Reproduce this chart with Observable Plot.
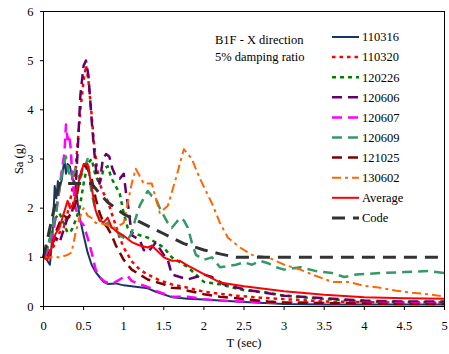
<!DOCTYPE html>
<html>
<head>
<meta charset="utf-8">
<script src="https://cdn.jsdelivr.net/npm/d3@7"></script>
<script src="https://cdn.jsdelivr.net/npm/@observablehq/plot@0.6"></script>
<style>
  html, body { margin: 0; padding: 0; background: #fff; }
  #chart { width: 449px; height: 354px; overflow: hidden; }
</style>
</head>
<body>
<div id="chart"></div>
<script>
// ---- Data ----
const seriesNames = ["110316", "110320", "120226", "120606", "120607", "120609", "121025", "130602", "Average", "Code"];
const seriesColors = ["#17375E", "#FF0000", "#008000", "#660066", "#FF00FF", "#339966", "#800000", "#FF6600", "#FF0000", "#333333"];
const seriesDash = ["none", "3.5,4", "4,4", "10,6", "10,6", "10,6", "10,6", "9,4,3,4", "none", "13,8"];
const seriesWidth = [2, 2.5, 2.5, 2.5, 2.5, 2.5, 2.5, 2, 2, 3];

const xTicks = [0, 0.5, 1, 1.5, 2, 2.5, 3, 3.5, 4, 4.5, 5];
const yTicks = [0, 1, 2, 3, 4, 5, 6];

const T_110316 = [0, 0.04, 0.08, 0.11, 0.14, 0.16, 0.18, 0.2, 0.23, 0.26, 0.28, 0.3, 0.33, 0.36, 0.4, 0.43, 0.46, 0.5, 0.55, 0.6, 0.65, 0.7, 0.75, 0.8, 0.9, 1.0, 1.2, 1.3, 1.4, 1.6, 1.8, 2.0, 2.5, 3.0, 3.5, 4.0, 5.0];
const SA_110316 = [1.0, 0.95, 0.85, 1.4, 2.45, 2.2, 2.55, 2.4, 2.6, 3.0, 2.7, 2.9, 2.85, 2.6, 2.5, 2.05, 1.75, 1.45, 1.1, 0.85, 0.7, 0.6, 0.5, 0.46, 0.47, 0.43, 0.39, 0.37, 0.3, 0.19, 0.16, 0.14, 0.09, 0.05, 0.04, 0.04, 0.04];

const T_110320 = [0, 0.05, 0.1, 0.15, 0.2, 0.25, 0.3, 0.35, 0.4, 0.43, 0.46, 0.5, 0.53, 0.56, 0.6, 0.63, 0.66, 0.7, 0.75, 0.8, 0.85, 0.9, 0.95, 1.0, 1.1, 1.2, 1.3, 1.45, 1.6, 1.8, 2.0, 2.2, 2.4, 2.7, 3.0, 3.5, 4.0, 4.5, 5.0];
const SA_110320 = [1.0, 1.0, 1.15, 1.3, 1.5, 1.6, 1.9, 2.3, 2.8, 3.4, 4.0, 4.6, 4.9, 4.6, 3.9, 3.3, 2.9, 2.5, 2.3, 2.15, 1.9, 1.65, 1.4, 1.2, 0.92, 0.75, 0.65, 0.53, 0.45, 0.38, 0.3, 0.26, 0.22, 0.18, 0.15, 0.1, 0.09, 0.08, 0.08];

const T_120226 = [0, 0.05, 0.1, 0.15, 0.2, 0.25, 0.3, 0.35, 0.4, 0.45, 0.5, 0.55, 0.6, 0.65, 0.7, 0.75, 0.8, 0.85, 0.9, 0.95, 1.0, 1.05, 1.1, 1.2, 1.3, 1.4, 1.5, 1.6, 1.7, 1.8, 1.9, 2.0, 2.2, 2.5, 2.8, 3.0, 3.5, 4.0, 4.5, 5.0];
const SA_120226 = [1.0, 1.2, 1.5, 1.8, 1.9, 1.7, 1.5, 1.55, 1.75, 2.0, 2.5, 2.9, 3.0, 2.65, 2.5, 2.8, 2.85, 2.6, 2.45, 2.3, 1.9, 1.6, 1.5, 1.45, 1.4, 1.3, 1.2, 1.0, 0.9, 0.8, 0.65, 0.5, 0.45, 0.33, 0.28, 0.22, 0.15, 0.1, 0.09, 0.08];

const T_120606 = [0, 0.05, 0.1, 0.15, 0.2, 0.25, 0.3, 0.35, 0.4, 0.43, 0.46, 0.5, 0.53, 0.56, 0.6, 0.63, 0.66, 0.7, 0.74, 0.78, 0.82, 0.86, 0.9, 0.95, 1.0, 1.03, 1.06, 1.1, 1.15, 1.2, 1.25, 1.3, 1.35, 1.4, 1.5, 1.55, 1.6, 1.7, 1.8, 1.9, 2.0, 2.1, 2.25, 2.5, 2.75, 3.0, 3.5, 4.0, 4.5, 5.0];
const SA_120606 = [1.0, 1.1, 1.25, 1.4, 1.3, 1.55, 1.8, 1.85, 2.4, 3.3, 4.3, 4.9, 5.0, 4.7, 3.8, 3.2, 2.7, 2.5, 3.0, 3.1, 3.05, 2.8, 2.65, 2.6, 2.7, 2.3, 2.0, 1.45, 1.4, 1.35, 1.15, 1.1, 1.2, 1.3, 1.05, 0.95, 0.65, 0.6, 0.55, 0.6, 0.65, 0.6, 0.45, 0.35, 0.28, 0.22, 0.17, 0.12, 0.1, 0.1];

const T_120607 = [0, 0.05, 0.1, 0.15, 0.2, 0.23, 0.26, 0.28, 0.3, 0.32, 0.34, 0.36, 0.4, 0.45, 0.5, 0.55, 0.6, 0.65, 0.7, 0.75, 0.8, 0.85, 0.9, 0.95, 1.0, 1.05, 1.1, 1.2, 1.3, 1.4, 1.5, 1.6, 1.8, 2.0, 2.2, 2.5, 3.0, 3.5, 4.0, 4.5, 5.0];
const SA_120607 = [1.0, 1.1, 1.3, 1.8, 2.4, 2.8, 3.1, 3.7, 3.4, 3.5, 3.2, 2.6, 2.0, 1.75, 1.65, 1.4, 1.1, 0.75, 0.6, 0.52, 0.48, 0.47, 0.5, 0.55, 0.6, 0.62, 0.52, 0.45, 0.4, 0.32, 0.26, 0.2, 0.2, 0.15, 0.12, 0.1, 0.08, 0.07, 0.07, 0.07, 0.06];

const T_120609 = [0, 0.05, 0.1, 0.15, 0.2, 0.25, 0.28, 0.31, 0.35, 0.4, 0.45, 0.5, 0.55, 0.6, 0.65, 0.7, 0.75, 0.8, 0.85, 0.9, 0.95, 1.0, 1.05, 1.1, 1.15, 1.2, 1.25, 1.3, 1.35, 1.4, 1.45, 1.5, 1.55, 1.6, 1.65, 1.7, 1.75, 1.8, 1.85, 1.9, 2.0, 2.1, 2.2, 2.3, 2.4, 2.5, 2.6, 2.7, 2.8, 2.9, 3.0, 3.2, 3.4, 3.6, 3.75, 3.9, 4.2, 4.5, 4.8, 5.0];
const SA_120609 = [1.0, 1.2, 1.5, 1.9, 2.4, 2.9, 3.05, 2.75, 2.6, 2.8, 2.6, 2.75, 3.0, 2.3, 1.95, 1.75, 1.65, 1.7, 1.6, 1.55, 1.45, 1.4, 1.35, 1.5, 1.8, 2.05, 2.2, 2.35, 2.25, 2.2, 2.0, 1.85, 1.7, 1.6, 1.7, 1.8, 1.75, 1.6, 1.3, 1.05, 0.95, 1.0, 0.8, 0.82, 0.85, 0.9, 0.85, 0.93, 0.88, 0.8, 0.75, 0.8, 0.72, 0.68, 0.6, 0.65, 0.68, 0.7, 0.72, 0.68];

const T_121025 = [0, 0.05, 0.1, 0.15, 0.2, 0.25, 0.3, 0.35, 0.4, 0.45, 0.5, 0.55, 0.6, 0.65, 0.7, 0.75, 0.8, 0.85, 0.9, 0.95, 1.0, 1.1, 1.2, 1.3, 1.4, 1.5, 1.6, 1.7, 1.8, 2.0, 2.2, 2.5, 2.8, 3.0, 3.5, 4.0, 4.5, 5.0];
const SA_121025 = [1.0, 1.0, 1.2, 1.5, 1.7, 1.85, 1.8, 1.9, 2.1, 2.6, 2.9, 2.8, 2.6, 2.2, 1.9, 1.7, 1.6, 1.45, 1.25, 1.1, 0.95, 0.75, 0.65, 0.55, 0.5, 0.45, 0.38, 0.37, 0.32, 0.25, 0.2, 0.15, 0.1, 0.08, 0.07, 0.06, 0.05, 0.05];

const T_130602 = [0, 0.1, 0.2, 0.3, 0.35, 0.4, 0.45, 0.5, 0.55, 0.6, 0.65, 0.7, 0.8, 0.9, 1.0, 1.1, 1.15, 1.25, 1.35, 1.45, 1.55, 1.65, 1.75, 1.85, 1.95, 2.1, 2.2, 2.3, 2.45, 2.6, 2.8, 3.0, 3.2, 3.4, 3.6, 3.8, 4.0, 4.2, 4.4, 4.6, 4.8, 5.0];
const SA_130602 = [1.0, 1.0, 1.0, 1.05, 1.1, 1.5, 1.8, 2.0, 1.85, 1.8, 1.7, 1.7, 1.65, 1.6, 1.7, 2.5, 2.8, 2.5, 2.5, 1.9, 2.05, 2.6, 3.2, 3.0, 2.6, 2.1, 1.7, 1.4, 1.2, 1.05, 1.0, 0.85, 0.75, 0.62, 0.5, 0.5, 0.42, 0.38, 0.32, 0.28, 0.25, 0.2];

const T_AVG = [0, 0.05, 0.1, 0.15, 0.2, 0.25, 0.3, 0.33, 0.38, 0.42, 0.5, 0.55, 0.6, 0.65, 0.7, 0.75, 0.8, 0.85, 0.9, 1.0, 1.1, 1.2, 1.3, 1.35, 1.5, 1.6, 1.7, 1.8, 2.0, 2.2, 2.5, 3.0, 3.5, 4.0, 4.5, 5.0];
const SA_AVG = [1.0, 0.95, 1.2, 1.48, 1.6, 1.88, 2.15, 2.0, 2.1, 2.42, 2.9, 2.9, 2.42, 1.95, 1.75, 1.71, 1.81, 1.61, 1.54, 1.44, 1.31, 1.24, 1.2, 1.24, 1.0, 0.93, 0.93, 0.83, 0.66, 0.49, 0.41, 0.31, 0.24, 0.19, 0.17, 0.16];

const T_CODE = [0, 0.2, 0.6, 0.7, 0.8, 1.0, 1.2, 1.5, 1.75, 2.0, 2.2, 2.4, 5.0];
const SA_CODE = [1.0, 2.5, 2.5, 2.3, 2.12, 1.88, 1.72, 1.48, 1.28, 1.15, 1.07, 1.0, 1.0];

const seriesT = [T_110316, T_110320, T_120226, T_120606, T_120607, T_120609, T_121025, T_130602, T_AVG, T_CODE];
const seriesSa = [SA_110316, SA_110320, SA_120226, SA_120606, SA_120607, SA_120609, SA_121025, SA_130602, SA_AVG, SA_CODE];

const annotation = ["B1F - X direction", "5% damping ratio"];

// ---- Build ----
const FONT = "'Liberation Serif', 'Times New Roman', serif";
const lineMarks = seriesNames.map((name, i) => {
  const rows = seriesT[i].map((t, k) => ({T: t, Sa: seriesSa[i][k], series: name}));
  return Plot.line(rows, {
    x: "T", y: "Sa",
    stroke: seriesColors[i],
    strokeWidth: seriesWidth[i],
    strokeDasharray: seriesDash[i] === "none" ? undefined : seriesDash[i],
    strokeLinejoin: "round",
    strokeLinecap: "butt"
  });
});

const chart = Plot.plot({
  width: 449,
  height: 354,
  marginLeft: 43,
  marginRight: 5,
  marginTop: 11,
  marginBottom: 48,
  style: {fontFamily: FONT, fontSize: "12.5px", color: "#000", background: "#fff"},
  x: {domain: [0, 5]},
  y: {domain: [0, 6]},
  marks: [
    ...lineMarks,
    Plot.frame({stroke: "#000", strokeWidth: 1}),
    Plot.axisX({ticks: xTicks, tickFormat: d => String(d), tickSize: 4, tickPadding: 11,
      label: "T (sec)", labelAnchor: "center", labelArrow: "none", labelOffset: 40, fontSize: 12.5}),
    Plot.axisY({ticks: yTicks, tickFormat: d => String(d), tickSize: 3, tickPadding: 7,
      label: "Sa (g)", labelAnchor: "center", labelArrow: "none", labelOffset: 29, fontSize: 12.5})
  ]
});
document.getElementById("chart").appendChild(chart);

// ---- Legend and annotation drawn into the same SVG ----
const svg = d3.select(chart);
const leg = svg.append("g").attr("font-family", FONT).attr("font-size", 12.5).attr("text-anchor", "start");
seriesNames.forEach((name, i) => {
  const y = 37 + i * 20.1;
  leg.append("line")
    .attr("x1", 332).attr("x2", 359).attr("y1", y).attr("y2", y)
    .attr("stroke", seriesColors[i]).attr("stroke-width", seriesWidth[i])
    .attr("stroke-dasharray", seriesDash[i] === "none" ? null : seriesDash[i]);
  leg.append("text").attr("x", 362).attr("y", y).attr("dy", "0.35em").attr("text-anchor", "start").text(name);
});
annotation.forEach((t, i) => {
  leg.append("text").attr("x", 215).attr("y", 40 + i * 17).attr("dy", "0.35em").attr("text-anchor", "start").text(t);
});
</script>
</body>
</html>
